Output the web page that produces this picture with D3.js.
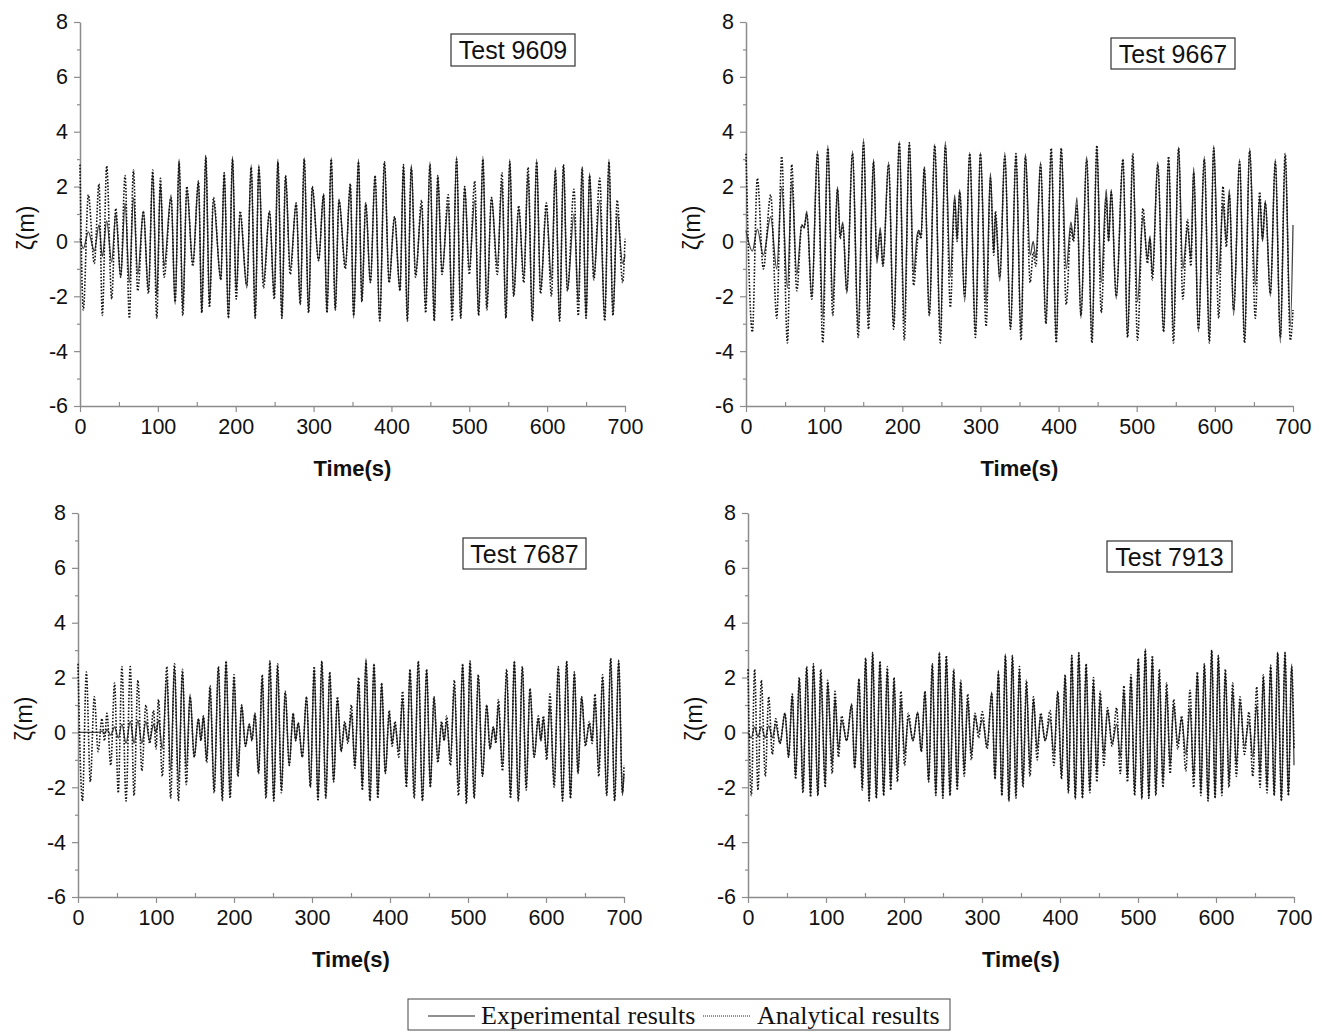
<!DOCTYPE html>
<html>
<head>
<meta charset="utf-8">
<script src="https://cdn.jsdelivr.net/npm/d3@7"></script>
<style>
  body { margin: 0; background: #fff; }
  text { font-family: "Liberation Sans", Arial, sans-serif; fill: #111; }
</style>
</head>
<body>
<div id="chart"></div>
<script>
var test9609 = [
  [0,0.1,2.8],[4.3,-0.25,-2.5],[10.7,0.35,1.7],[18.4,-0.35,-0.8],[24.4,0.6,2.1],[28.7,-0.55,-2.7],
  [34.3,0.75,2.75],[40.7,-0.75,-2.1],[45.9,1.0,1.2],[52.3,-1.3,-1.3],[57.9,1.4,2.4],[63.4,-1.5,-2.8],
  [68.6,1.6,2.6],[74.2,-1.2,-1.8],[81.4,1.1,1.1],[87.9,-1.8,-1.9],[93.4,2.5,2.6],[98.6,-2.0,-2.8],
  [103.3,2.1,2.3],[108,-0.9,-1.3],[117,1.7,1.6],[122.2,-2.3,-2.2],[127.3,3.0,2.9],[132,-2.5,-2.7],
  [137.2,1.9,2.0],[144.9,-0.8,-0.9],[152.2,2.2,2.2],[156.4,-2.6,-2.6],[161.6,3.15,3.1],[166.3,-2.3,-2.4],
  [171.4,1.5,1.6],[180.9,-1.4,-1.4],[185.2,2.5,2.5],[190.7,-2.8,-2.8],[195.9,3.1,3.0],[200.6,-1.8,-2.1],
  [205.7,1.0,1.1],[214.3,-1.7,-1.6],[219.9,2.8,2.7],[225,-2.8,-2.8],[229.7,2.8,2.7],[235.7,-1.5,-1.7],
  [243.4,1.1,1.1],[249.5,-2.0,-2.1],[254.2,3.0,2.9],[259.3,-2.8,-2.8],[264,2.4,2.4],[270,-1.0,-1.2],
  [277.7,1.4,1.4],[282.9,-2.3,-2.3],[288,3.05,3.0],[293.6,-2.6,-2.6],[298.3,2.0,2.0],[306.5,-0.7,-0.7],
  [312.9,1.75,1.7],[317.2,-2.6,-2.6],[322.7,3.05,3.0],[327.9,-2.5,-2.5],[332.6,1.55,1.5],[340.8,-0.9,-1.0],
  [347.2,2.1,2.1],[351.5,-2.8,-2.7],[357.7,3.0,2.9],[362,-2.2,-2.2],[367,1.4,1.4],[373,-1.5,-1.5],
  [379,2.4,2.4],[385,-2.9,-2.9],[391,2.9,2.9],[397,-1.5,-1.5],[404,0.9,0.9],[411,-1.8,-1.8],
  [415.5,2.8,2.8],[420.5,-2.9,-2.9],[425.5,2.8,2.7],[431,-1.2,-1.3],[438.8,1.3,1.5],[444,-2.4,-2.6],
  [449.5,2.9,2.8],[455,-2.9,-2.9],[459.5,2.4,2.4],[465,-1.1,-1.2],[473,1.4,1.7],[478,-2.6,-2.9],
  [483.7,3.1,3.0],[489,-2.8,-2.8],[494,2.0,2.0],[500,-1.0,-1.2],[507,1.5,2.2],[512,-2.7,-2.7],
  [517.5,3.1,3.0],[522.5,-2.4,-2.5],[528.5,1.6,1.6],[536,-0.9,-1.2],[542,2.2,2.5],[547,-2.8,-2.8],
  [552,3.0,2.9],[557,-2.0,-2.0],[563.5,1.2,1.3],[570,-1.3,-1.5],[575.5,2.5,2.7],[581,-2.9,-2.9],
  [586.5,3.0,2.9],[591.5,-1.8,-1.9],[599,1.2,1.4],[605.5,-1.4,-2.0],[610.6,2.7,2.6],[616,-2.9,-2.9],
  [621,2.8,2.8],[626,-1.8,-1.8],[634.5,1.0,1.9],[640,-2.2,-2.7],[645,2.7,2.7],[650,-2.8,-2.8],
  [654.5,2.5,2.4],[660,-1.3,-1.4],[667.5,1.5,2.3],[674,-2.8,-2.9],[679.4,3.0,2.9],[684.5,-2.7,-2.7],
  [690,1.0,1.5],[697,-0.8,-1.5],[700,-0.5,0.1]
];

var test9667 = [
  [0,0.4,3.2],[8.1,-0.35,-3.3],[14.5,0.45,2.3],[22.2,-0.5,-1.0],[31.6,0.9,1.7],[39.3,-1.0,-2.8],
  [45.7,2.0,3.1],[53,-1.7,-3.7],[58.5,2.2,2.8],[65,-1.2,-1.8],[71.4,0.6,0.6],[74.4,0.5,0.5],
  [77.8,1.1,1.0],[84.2,-2.0,-2.1],[91.5,3.3,3.2],[98.3,-2.8,-3.7],[104.7,3.5,3.4],[111.1,-2.2,-2.7],
  [117.1,2.0,1.9],[120.5,0.2,0.1],[123.9,0.7,0.6],[129,-1.9,-1.8],[136.3,3.3,3.2],[143.6,-3.2,-3.5],
  [150.4,3.75,3.6],[156.8,-2.8,-3.2],[163.2,3.0,2.9],[167.5,-0.8,-0.6],[171.8,0.5,0.3],[175.2,-0.9,-0.9],
  [182.5,2.9,2.8],[188.9,-3.1,-3.2],[196.2,3.65,3.6],[202.6,-3.0,-3.6],[209,3.6,3.6],[214.5,-1.2,-1.6],
  [218.8,0.2,-0.2],[220.9,0.4,0.4],[223.9,0.2,0.1],[228.2,2.7,2.7],[234.6,-2.7,-2.7],[241.5,3.55,3.5],
  [248.7,-3.4,-3.7],[255.1,3.65,3.5],[261.5,-1.3,-2.4],[267.1,1.7,1.5],[270.1,0.1,0.0],[273.5,1.9,1.8],
  [279.9,-2.2,-2.0],[286.3,3.25,3.2],[293.6,-3.3,-3.5],[300,3.25,3.2],[307.3,-2.3,-3.1],[312.8,2.5,2.3],
  [317.1,-0.4,-0.5],[319.2,1.0,1.1],[324.8,-1.45,-1.3],[331.2,3.25,3.1],[338.5,-3.15,-3.2],[345.5,3.15,3.2],
  [352,-3.4,-3.6],[357.5,3.2,3.1],[363.7,-0.5,-1.5],[367.5,0.0,-0.4],[371,-0.6,-0.9],[377,2.9,2.8],
  [383.8,-3.0,-3.0],[390.6,3.3,3.4],[397,-3.6,-3.7],[403.4,3.4,3.4],[409.8,-1.0,-2.3],[415.8,0.7,0.5],
  [419,0.1,0.0],[423.5,1.6,1.3],[428.6,-2.8,-2.7],[436,3.1,3.0],[442.7,-3.6,-3.7],[449,3.4,3.5],
  [454.6,-1.5,-2.6],[461,1.9,1.6],[464,0.0,0.0],[467.4,1.9,1.8],[473.8,-2.1,-2.0],[482.4,3.0,3.0],
  [488.3,-3.5,-3.5],[495,3.1,3.2],[501,-2.2,-3.6],[508,0.9,1.2],[513.8,-0.6,-0.8],[517,0.2,0.1],
  [520,-1.2,-1.4],[527,2.9,2.8],[534.4,-3.3,-3.3],[540.8,3.0,3.1],[547,-3.3,-3.7],[553.6,3.45,3.4],
  [559,-1.0,-2.1],[565,0.5,0.8],[569.4,-0.6,-0.9],[572.9,2.7,2.5],[579,-3.3,-3.2],[586.5,3.1,3.0],
  [593,-3.6,-3.7],[598.5,3.5,3.4],[604.9,-1.2,-2.8],[610.4,1.4,2.0],[614.7,0.0,-0.2],[618.5,1.9,1.7],
  [624,-2.7,-2.5],[631.7,3.0,2.9],[638,-3.6,-3.7],[644.5,3.4,3.3],[651.8,-1.6,-2.8],[657.4,1.6,1.8],
  [661,0.0,0.1],[664.6,1.5,1.4],[671,-2.0,-1.9],[677.4,3.0,2.9],[683.8,-3.7,-3.5],[690,3.1,3.2],
  [696.6,-3.1,-3.6],[700,0.6,-2.5]
];

var test7687 = [
  [0,0,2.5],[5.7,0,-2.5],[10.7,0,2.2],[15.8,0,-1.8],[20.9,0,1.3],[25.8,0,-0.7],[30.7,0.05,0.5],
  [34,-0.05,-0.3],[37.1,0.1,0.7],[42,-0.1,-1.2],[46.9,0.2,1.8],[51.6,-0.2,-2.2],[56.3,0.3,2.4],
  [61.6,-0.4,-2.5],[67,0.4,2.4],[71.9,-0.4,-2.3],[76.8,0.45,1.9],[81.9,-0.4,-1.4],[87,0.4,1.0],
  [91.9,-0.3,-0.4],[96.8,0.3,0.8],[100,0.0,-0.6],[103.2,0.45,1.2],[108.1,-0.6,-1.6],[113.9,2.0,2.4],
  [118.8,-1.4,-2.4],[123.7,2.4,2.5],[128.8,-1.8,-2.5],[133.9,2.2,2.3],[138.8,-1.3,-1.9],[143.7,1.4,1.3],
  [149,-0.9,-0.9],[154.4,0.5,0.5],[157.6,-0.3,-0.3],[160.8,0.6,0.6],[165,-1.0,-1.1],[169.3,1.6,1.7],
  [174.6,-2.1,-2.2],[180,2.4,2.4],[185,-2.4,-2.5],[189.8,2.6,2.6],[195,-2.3,-2.4],[200,2.0,2.1],
  [205,-1.6,-1.6],[209.8,1.0,1.0],[214.7,-0.5,-0.5],[219.6,0.3,0.3],[223,-0.3,-0.3],[226.9,0.7,0.7],
  [231.5,-1.5,-1.5],[236.2,2.0,2.1],[241,-2.3,-2.4],[246,2.6,2.6],[251,-2.5,-2.5],[255.9,2.4,2.5],
  [260.8,-2.1,-2.2],[265.7,1.5,1.5],[270.8,-1.2,-1.2],[275.9,0.7,0.7],[279,-0.3,-0.3],[282.3,0.35,0.35],
  [287.6,-0.9,-0.9],[293,1.3,1.3],[297.9,-2.0,-2.0],[302.8,2.3,2.4],[307.7,-2.4,-2.5],[312.6,2.6,2.6],
  [317.7,-2.4,-2.4],[322.8,2.2,2.2],[327.7,-1.8,-1.8],[332.6,1.2,1.3],[337.3,-0.7,-0.7],[342,0.3,0.4],
  [346,-0.3,-0.4],[350.5,0.7,1.0],[355,-1.2,-1.3],[359.8,1.9,2.0],[364.5,-2.0,-2.1],[369.2,2.7,2.6],
  [374.3,-2.5,-2.5],[379.5,2.5,2.5],[384.4,-2.3,-2.4],[389.3,1.8,1.8],[394,-1.5,-1.5],[399,0.7,0.8],
  [402.7,-0.4,-0.5],[406.4,0.3,0.4],[411.3,-0.7,-0.9],[416.2,1.2,1.5],[421,-1.9,-2.0],[425.6,2.3,2.3],
  [431,-2.3,-2.4],[436.3,2.6,2.6],[441.6,-2.5,-2.5],[447,2.3,2.3],[451.7,-2.0,-2.0],[456.4,1.3,1.3],
  [461.3,-1.0,-1.1],[466.2,0.3,0.4],[469.4,-0.3,-0.3],[472.6,0.4,0.6],[477.5,-1.0,-1.2],[482.5,1.7,1.9],
  [487.8,-2.0,-2.3],[493.2,2.5,2.5],[497.9,-2.5,-2.6],[502.6,2.6,2.6],[507.9,-2.4,-2.4],[513.2,2.1,2.1],
  [518.6,-1.6,-1.6],[524,1.0,1.0],[528.2,-0.6,-0.6],[532.5,0.2,0.2],[535.7,-0.3,-0.4],[538.9,1.0,1.2],
  [544.2,-1.2,-1.4],[549.6,2.2,2.3],[554.5,-2.3,-2.4],[559.4,2.6,2.6],[564.5,-2.5,-2.5],[569.7,2.4,2.4],
  [574.6,-2.0,-2.1],[579.5,1.6,1.6],[584.8,-0.9,-0.9],[590.2,0.5,0.6],[593.4,-0.3,-0.3],[596.6,0.5,0.6],
  [600.9,-0.8,-1.0],[605.1,1.0,1.4],[610.5,-1.9,-2.0],[615.8,2.4,2.4],[621.2,-2.5,-2.5],[626.5,2.6,2.6],
  [631.4,-2.4,-2.4],[636.3,2.2,2.2],[641,-1.5,-1.5],[645.7,1.3,1.3],[650.6,-0.4,-0.5],[655.6,0.3,0.4],
  [659.2,-0.3,-0.4],[662.8,1.2,1.4],[667.7,-1.4,-1.6],[672.6,2.0,2.1],[677.8,-2.3,-2.3],[682.9,2.7,2.7],
  [688,-2.5,-2.5],[693.2,2.65,2.6],[698,-2.3,-2.2],[700,-1.5,-1.2]
];

var test7913 = [
  [0,0.0,2.3],[4.3,-0.2,-2.3],[8.5,0.2,2.3],[12.8,-0.15,-2.1],[17.1,0.2,1.9],[22.2,-0.2,-1.6],
  [26.5,0.25,1.3],[31.2,-0.2,-0.8],[35.5,0.3,0.5],[41,-0.4,-0.4],[47.4,0.7,0.7],[52,-0.9,-0.9],
  [56.8,1.36,1.4],[61,-1.6,-1.7],[65.8,2.0,2.0],[70.5,-2.1,-2.2],[75.2,2.37,2.4],[80.3,-2.3,-2.35],
  [83.8,2.5,2.5],[89.7,-2.3,-2.3],[93.2,2.15,2.3],[99,-1.9,-2.0],[102.1,1.8,1.9],[108,-1.2,-1.5],
  [111.5,1.24,1.5],[116,-0.6,-0.9],[120.1,0.45,0.6],[126.5,-0.3,-0.3],[132.9,1.05,1.0],[136.8,-1.3,-1.3],
  [142.3,1.97,1.95],[146.5,-2.0,-2.1],[150.8,2.73,2.7],[155.3,-2.5,-2.5],[159.8,2.94,2.9],[164.5,-2.4,-2.4],
  [169.2,2.58,2.6],[173.9,-2.3,-2.3],[178.6,2.27,2.4],[183,-2.0,-2.1],[187.2,1.9,2.0],[191.6,-1.5,-1.8],
  [196.1,1.18,1.5],[200.8,-0.8,-1.2],[205.5,0.51,0.7],[211.5,-0.3,-0.3],[217.5,0.75,0.7],[222.2,-0.7,-0.7],
  [226.9,1.5,1.5],[231.6,-1.8,-1.8],[236.3,2.5,2.5],[240.8,-2.3,-2.3],[245.3,2.94,2.9],[249.8,-2.4,-2.4],
  [254.3,2.76,2.8],[259,-2.3,-2.3],[263.7,2.27,2.3],[268.2,-2.0,-2.1],[272.7,1.81,1.9],[277.2,-1.4,-1.6],
  [281.7,1.2,1.4],[286.3,-0.8,-1.0],[291,0.6,0.7],[295.7,0.0,-0.2],[300.4,0.47,0.75],[306.5,-0.5,-0.6],
  [312.5,1.48,1.4],[316.7,-1.7,-1.7],[321,2.27,2.2],[325.5,-2.3,-2.3],[330,2.86,2.8],[334.5,-2.5,-2.5],
  [339,2.82,2.8],[343.5,-2.3,-2.4],[348,2.3,2.4],[352.5,-1.9,-2.0],[357,1.73,1.9],[361.5,-1.3,-1.6],
  [366,1.18,1.3],[370.7,-0.6,-1.0],[375.3,0.6,0.7],[381,-0.3,-0.3],[387.3,0.5,0.8],[392.2,-0.8,-1.2],
  [397.2,1.48,1.5],[401.9,-1.6,-1.7],[406.6,2.1,2.1],[410.8,-2.2,-2.2],[415.1,2.82,2.8],[419.6,-2.45,-2.4],
  [424.1,2.9,2.9],[428.8,-2.4,-2.4],[433.5,2.45,2.5],[438.2,-2.1,-2.2],[442.9,1.85,2.0],[447.2,-1.5,-1.8],
  [451.5,1.3,1.5],[456.2,-0.8,-1.2],[460.9,0.8,0.9],[466.8,-0.4,-0.5],[472.6,0.3,0.9],[477.3,-0.9,-1.5],
  [482,1.54,1.7],[486.5,-1.6,-1.8],[491,2.03,2.1],[495.7,-2.2,-2.3],[500.4,2.7,2.7],[504.9,-2.45,-2.4],
  [509.4,3.06,3.0],[513.9,-2.4,-2.4],[518.4,2.76,2.8],[522.9,-2.2,-2.3],[527.3,2.1,2.3],[532,-1.8,-2.0],
  [536.7,1.54,1.8],[541.2,-1.2,-1.5],[545.7,1.0,1.2],[551,-0.4,-0.6],[556,0.5,0.6],[561.3,-0.8,-1.4],
  [566.7,0.9,1.54],[571.4,-1.6,-2.0],[576.1,2.15,2.2],[580.6,-2.2,-2.3],[585.1,2.5,2.5],[589.8,-2.5,-2.5],
  [594.5,3.0,3.0],[598.8,-2.4,-2.4],[603,2.82,2.8],[607.5,-2.2,-2.3],[612,2.2,2.3],[616.7,-1.8,-2.0],
  [621.4,1.54,1.8],[626.1,-1.2,-1.6],[630.8,1.12,1.3],[636.5,-0.5,-0.8],[642.3,0.4,0.75],[647.2,-0.9,-1.6],
  [652.2,1.0,1.66],[656.5,-1.5,-2.0],[660.7,2.03,2.1],[665.4,-2.0,-2.2],[670.1,2.45,2.45],[674.6,-2.3,-2.3],
  [679.1,2.94,2.9],[683.8,-2.5,-2.5],[688.5,2.94,2.9],[692.8,-2.3,-2.3],[697,2.5,2.4],[700,-1.2,-0.6]
];

var yTicks = [-6, -4, -2, 0, 2, 4, 6, 8];
var yMinor = [-5, -3, -1, 1, 3, 5, 7];
var xTicks = [0, 100, 200, 300, 400, 500, 600, 700];
var xMinor = [50, 150, 250, 350, 450, 550, 650];
var seriesNames = ["Experimental results", "Analytical results"];

var width = 1322, height = 1032;
var svg = d3.select("#chart").append("svg")
  .attr("width", width).attr("height", height);

var panels = [
  { label: "Test 9609", rows: test9609, left: 80,  right: 625,  top: 22,  bottom: 406, box: [451, 34, 124, 32] },
  { label: "Test 9667", rows: test9667, left: 746, right: 1293, top: 22,  bottom: 406, box: [1111, 38, 124, 31] },
  { label: "Test 7687", rows: test7687, left: 78,  right: 624,  top: 513, bottom: 897, box: [463, 538, 123, 31] },
  { label: "Test 7913", rows: test7913, left: 748, right: 1294, top: 513, bottom: 897, box: [1107, 541, 125, 31] }
];

var axisGrey = "#8c8c8c";

panels.forEach(function (p) {
  var x = d3.scaleLinear().domain([0, 700]).range([p.left, p.right]);
  var y = d3.scaleLinear().domain([-6, 8]).range([p.bottom, p.top]);
  var g = svg.append("g");

  // minor ticks first, then the major axes
  g.append("g").attr("transform", "translate(" + p.left + ",0)")
    .call(d3.axisLeft(y).tickValues(yMinor).tickSize(3).tickFormat(""))
    .call(function (s) { s.select(".domain").remove(); });
  g.append("g").attr("transform", "translate(0," + p.bottom + ")")
    .call(d3.axisBottom(x).tickValues(xMinor).tickSize(-4).tickFormat(""))
    .call(function (s) { s.select(".domain").remove(); });

  g.append("g").attr("class", "yaxis").attr("transform", "translate(" + p.left + ",0)")
    .call(d3.axisLeft(y).tickValues(yTicks).tickSize(6).tickSizeOuter(0).tickPadding(6)
      .tickFormat(function (d) { return String(d); }));
  g.append("g").attr("class", "xaxis").attr("transform", "translate(0," + p.bottom + ")")
    .call(d3.axisBottom(x).tickValues(xTicks).tickSize(6).tickSizeOuter(0).tickPadding(7)
      .tickFormat(function (d) { return String(d); }));

  g.selectAll(".domain").attr("stroke", axisGrey).attr("stroke-width", 1.5);
  g.selectAll(".tick line").attr("stroke", axisGrey).attr("stroke-width", 1.2);
  g.selectAll(".tick text").style("font-size", "21.5px").attr("fill", "#111");

  // axis titles
  g.append("text")
    .attr("x", (p.left + p.right) / 2).attr("y", p.bottom + 70)
    .attr("text-anchor", "middle")
    .style("font-size", "22px").style("font-weight", "bold")
    .text("Time(s)");
  g.append("text")
    .attr("transform", "translate(" + (p.left - 46) + "," + (p.top + 206) + ") rotate(-90)")
    .attr("text-anchor", "middle")
    .style("font-size", "23px")
    .text("ζ(m)");

  // series
  var expLine = d3.line().curve(d3.curveMonotoneX)
    .x(function (d) { return x(d[0]); }).y(function (d) { return y(d[1]); });
  var anaLine = d3.line().curve(d3.curveMonotoneX)
    .x(function (d) { return x(d[0]); }).y(function (d) { return y(d[2]); });

  g.append("path").datum(p.rows)
    .attr("d", expLine)
    .attr("fill", "none").attr("stroke", "#444").attr("stroke-width", 1.3);
  g.append("path").datum(p.rows)
    .attr("d", anaLine)
    .attr("fill", "none").attr("stroke", "#111").attr("stroke-width", 1.6)
    .attr("stroke-dasharray", "1.6,1.6");

  // test label box
  g.append("rect")
    .attr("x", p.box[0]).attr("y", p.box[1]).attr("width", p.box[2]).attr("height", p.box[3])
    .attr("fill", "#fff").attr("stroke", "#333").attr("stroke-width", 1.2);
  g.append("text")
    .attr("x", p.box[0] + p.box[2] / 2).attr("y", p.box[1] + p.box[3] / 2 + 9)
    .attr("text-anchor", "middle")
    .style("font-size", "25px")
    .text(p.label);
});

// legend
var legend = svg.append("g");
legend.append("rect")
  .attr("x", 408).attr("y", 999).attr("width", 542).attr("height", 31)
  .attr("fill", "#fff").attr("stroke", "#444").attr("stroke-width", 1);
legend.append("line")
  .attr("x1", 428).attr("x2", 475).attr("y1", 1016).attr("y2", 1016)
  .attr("stroke", "#222").attr("stroke-width", 1.1);
legend.append("text")
  .attr("x", 481).attr("y", 1024)
  .style("font-family", "'Liberation Serif', 'Times New Roman', serif")
  .style("font-size", "26px")
  .text(seriesNames[0]);
legend.append("line")
  .attr("x1", 703).attr("x2", 750).attr("y1", 1016).attr("y2", 1016)
  .attr("stroke", "#222").attr("stroke-width", 1).attr("stroke-dasharray", "1,1");
legend.append("text")
  .attr("x", 757).attr("y", 1024)
  .style("font-family", "'Liberation Serif', 'Times New Roman', serif")
  .style("font-size", "26px")
  .text(seriesNames[1]);
</script>
</body>
</html>
